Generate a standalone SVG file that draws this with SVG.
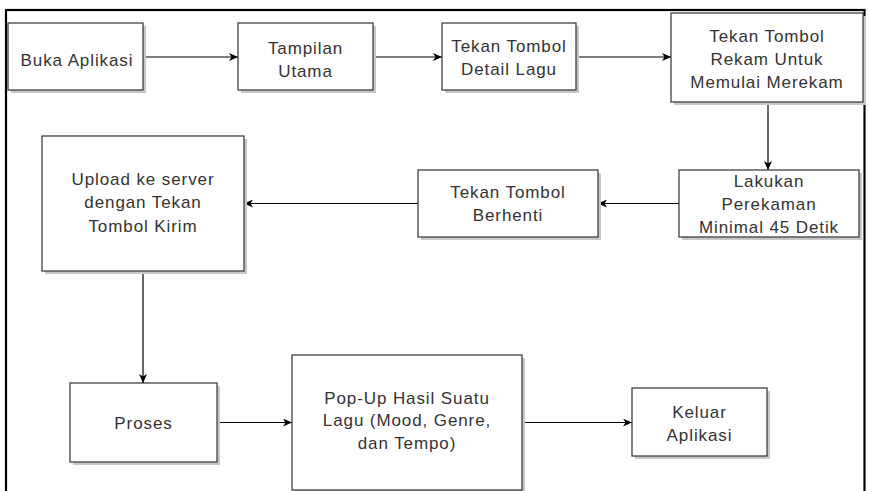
<svg xmlns="http://www.w3.org/2000/svg" width="869" height="491" viewBox="0 0 869 491">
<style>
.box{fill:#fff;stroke:#333;stroke-width:1.2}
.sh{fill:#c8c8c8}
.t{font-family:"Liberation Sans",Arial,sans-serif;font-size:17px;letter-spacing:0.9px;fill:#333;text-anchor:middle}
.c{fill:none;stroke:#000;stroke-width:1.2}
</style>
<defs>
<marker id="ah" markerWidth="10" markerHeight="8" refX="9" refY="4" orient="auto" markerUnits="userSpaceOnUse">
<path d="M0,0 L9,4 L0,8 L2.5,4 z" fill="#000"/>
</marker>
</defs>
<rect x="0" y="0" width="869" height="491" fill="#fff"/>
<rect x="6" y="10" width="858.5" height="495" fill="none" stroke="#000" stroke-width="2.2"/>
<g id="connectors">
<line class="c" x1="143" y1="57" x2="238" y2="57" marker-end="url(#ah)"/>
<line class="c" x1="373" y1="57" x2="442" y2="57" marker-end="url(#ah)"/>
<line class="c" x1="576" y1="57" x2="671" y2="57" marker-end="url(#ah)"/>
<line class="c" x1="768" y1="102" x2="768" y2="170" marker-end="url(#ah)"/>
<line class="c" x1="679" y1="203.5" x2="598" y2="203.5" marker-end="url(#ah)"/>
<line class="c" x1="418" y1="203.5" x2="244" y2="203.5" marker-end="url(#ah)"/>
<line class="c" x1="143" y1="271" x2="143" y2="383" marker-end="url(#ah)"/>
<line class="c" x1="217" y1="422.5" x2="292" y2="422.5" marker-end="url(#ah)"/>
<line class="c" x1="522" y1="422.5" x2="632" y2="422.5" marker-end="url(#ah)"/>
</g>
<g id="n1">
<rect class="sh" x="11" y="26" width="135" height="67"/>
<rect class="box" x="8" y="23" width="135" height="67"/>
<text class="t" x="77" y="66">Buka Aplikasi</text>
</g>
<g id="n2">
<rect class="sh" x="241" y="26" width="135" height="67"/>
<rect class="box" x="238" y="23" width="135" height="67"/>
<text class="t" x="305.5" y="54">Tampilan</text>
<text class="t" x="305.5" y="76.5">Utama</text>
</g>
<g id="n3">
<rect class="sh" x="445" y="26" width="134" height="67"/>
<rect class="box" x="442" y="23" width="134" height="67"/>
<text class="t" x="509" y="51.5">Tekan Tombol</text>
<text class="t" x="509" y="75">Detail Lagu</text>
</g>
<g id="n4">
<rect class="sh" x="674" y="16" width="192" height="89"/>
<rect class="box" x="671" y="13" width="192" height="89"/>
<text class="t" x="767" y="41.5">Tekan Tombol</text>
<text class="t" x="767" y="64.5">Rekam Untuk</text>
<text class="t" x="767" y="87.5">Memulai Merekam</text>
</g>
<g id="n5">
<rect class="sh" x="682" y="173" width="180" height="67"/>
<rect class="box" x="679" y="170" width="180" height="67"/>
<text class="t" x="769" y="186.5">Lakukan</text>
<text class="t" x="769" y="209.5">Perekaman</text>
<text class="t" x="769" y="232.5">Minimal 45 Detik</text>
</g>
<g id="n6">
<rect class="sh" x="421" y="173" width="180" height="67"/>
<rect class="box" x="418" y="170" width="180" height="67"/>
<text class="t" x="508" y="197.5">Tekan Tombol</text>
<text class="t" x="508" y="221">Berhenti</text>
</g>
<g id="n7">
<rect class="sh" x="45" y="139" width="202" height="135"/>
<rect class="box" x="42" y="136" width="202" height="135"/>
<text class="t" x="143" y="185">Upload ke server</text>
<text class="t" x="143" y="208">dengan Tekan</text>
<text class="t" x="143" y="231.5">Tombol Kirim</text>
</g>
<g id="n8">
<rect class="sh" x="73" y="386" width="147" height="79"/>
<rect class="box" x="70" y="383" width="147" height="79"/>
<text class="t" x="143.5" y="428.5">Proses</text>
</g>
<g id="n9">
<rect class="sh" x="295" y="358" width="230" height="135"/>
<rect class="box" x="292" y="355" width="230" height="135"/>
<text class="t" x="407" y="403.5">Pop-Up Hasil Suatu</text>
<text class="t" x="407" y="426">Lagu (Mood, Genre,</text>
<text class="t" x="407" y="448.5">dan Tempo)</text>
</g>
<g id="n10">
<rect class="sh" x="635" y="391" width="135" height="68"/>
<rect class="box" x="632" y="388" width="135" height="68"/>
<text class="t" x="699.5" y="417.5">Keluar</text>
<text class="t" x="699.5" y="441">Aplikasi</text>
</g>
</svg>
